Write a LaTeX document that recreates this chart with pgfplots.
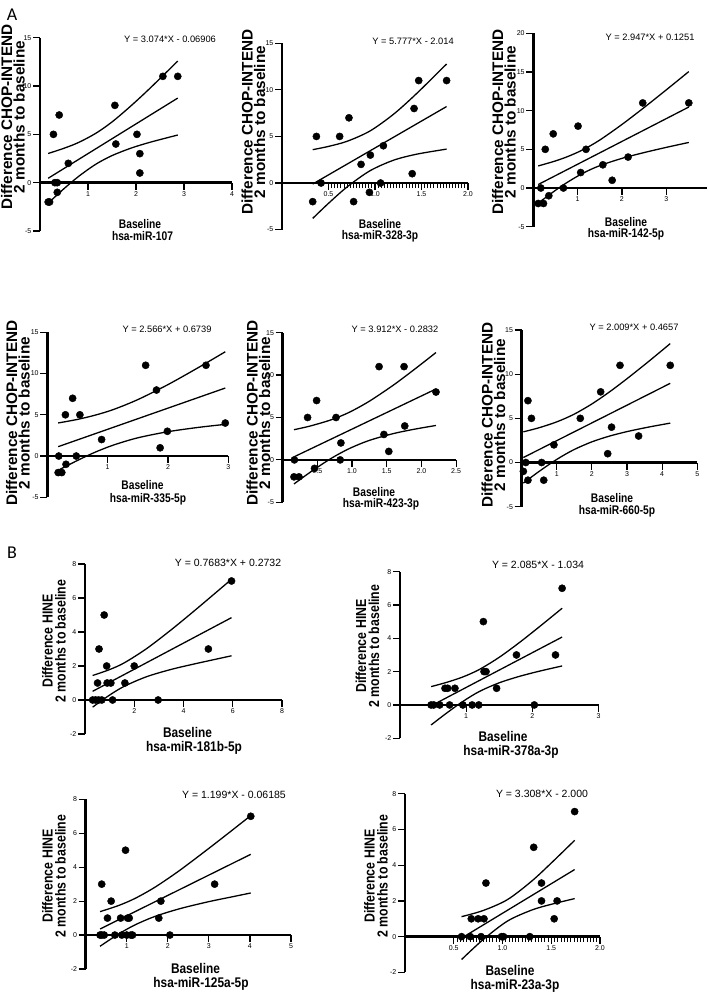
\documentclass[border=0pt]{standalone}
\usepackage{fontspec}
\setmainfont{Liberation Sans}
\newfontfamily\carlito{Carlito}
\usepackage{pgfplots}
\pgfplotsset{compat=1.18}
\newcommand\tk{\fontsize{7}{8}\selectfont}
\newcommand\eqA{\fontsize{9.3}{10}\selectfont}
\newcommand\eqB{\fontsize{10.5}{12}\selectfont}
\newcommand\xlA[1]{\bfseries\fontsize{12.5}{13}\selectfont\scalebox{0.82}[1]{#1}}
\newcommand\xlB[1]{\bfseries\fontsize{14}{15}\selectfont\scalebox{0.85}[1]{#1}}
\tikzset{
  ylA/.style={rotate=90, align=center, inner sep=0pt, font=\bfseries\fontsize{15.3}{12.5}\selectfont},
  ylB/.style={rotate=90, align=center, inner sep=0pt, font=\bfseries\fontsize{14.5}{13}\selectfont},
  xl/.style={anchor=base, inner sep=0pt},
}
\pgfplotsset{
  prism/.style={scale only axis, anchor=south west, axis lines=middle,
    axis line style={-, line width=2.6pt, black}, xmin=0,
    tick align=center, major tick length=7pt, minor tick length=5pt,
    every tick/.style={line width=1.2pt, black},
    minor tick style={line width=1pt, black},
    major x tick style={yshift=-3.5pt}, minor x tick style={yshift=-2.5pt},
    major y tick style={xshift=-3.5pt},
    ticklabel style={font=\tk, inner sep=1.5pt},
    xticklabel style={yshift=-3.5pt}, yticklabel style={xshift=-3.5pt},
    hide obscured x ticks=false, hide obscured y ticks=false,
    clip=false, enlargelimits=false},
  yA/.style={ymin=-5, ymax=15, ytick={-5,0,5,10,15}, yticklabels={-5,0,5,10,15}},
  yB/.style={ymin=-2, ymax=8, ytick={-2,0,2,4,6,8}, yticklabels={-2,0,2,4,6,8}},
  pts/.style={only marks, mark=*, mark size=3.6pt, black},
  fitl/.style={no markers, smooth, line width=1.3pt, black},
}
\begin{document}
\begin{tikzpicture}
\useasboundingbox (0pt,0pt) rectangle (709pt,996pt);
% ---------- A1 ----------
\begin{axis}[prism, yA, at={(40pt,765pt)}, width=192pt, height=193.3pt, xmax=4,
  xtick={1,2,3,4}, xticklabels={1,2,3,4}]
\addplot[pts] coordinates {(0.17,-2) (0.2,-2) (0.28,5) (0.40,7) (0.31,0) (0.36,0) (0.36,-1) (0.59,2) (1.56,8) (1.58,4) (2.02,5) (2.08,3) (2.08,1) (2.56,11) (2.87,11)};
\addplot[fitl] coordinates {(0.17,0.454) (2.87,8.753)};
\addplot[fitl] coordinates {(0.17,3.02) (0.5,3.56) (0.8,4.15) (1.16,5.10) (1.5,6.28) (1.9,7.97) (2.3,9.81) (2.87,12.58)};
\addplot[fitl] coordinates {(0.17,-2.12) (0.5,-0.62) (0.8,0.63) (1.16,1.90) (1.5,2.80) (1.9,3.58) (2.3,4.19) (2.87,4.93)};
\end{axis}
% ---------- A2 ----------
\begin{axis}[prism, yA, at={(282pt,766.4pt)}, width=186pt, height=186.3pt, xmax=2,
  xtick={0.5,1,1.5,2}, xticklabels={0.5,1.0,1.5,2.0}, minor x tick num=14]
\addplot[pts] coordinates {(0.33,-2) (0.37,5) (0.42,0) (0.62,5) (0.72,7) (0.77,-2) (0.85,2) (0.95,3) (0.94,-1) (1.06,0) (1.09,4) (1.40,1) (1.42,8) (1.47,11) (1.77,11)};
\addplot[fitl] coordinates {(0.33,-0.108) (1.77,8.211)};
\addplot[fitl] coordinates {(0.33,3.58) (0.5,3.93) (0.7,4.48) (0.945,5.58) (1.2,7.39) (1.45,9.63) (1.77,12.78)};
\addplot[fitl] coordinates {(0.33,-3.80) (0.5,-2.18) (0.7,-0.42) (0.945,1.31) (1.2,2.45) (1.45,3.10) (1.77,3.64)};
\end{axis}
% ---------- A3 ----------
\begin{axis}[prism, at={(533.3pt,769.3pt)}, width=174.1pt, height=193.4pt, xmax=3.93,
  ymin=-5, ymax=20, ytick={-5,0,5,10,15,20}, yticklabels={-5,0,5,10,15,20},
  xtick={1,2,3}, xticklabels={1,2,3}]
\addplot[pts] coordinates {(0.11,-2) (0.23,-2) (0.17,0) (0.27,5) (0.35,-1) (0.45,7) (0.68,0) (1.01,8) (1.07,2) (1.19,5) (1.57,3) (1.78,1) (2.14,4) (2.47,11) (3.51,11)};
\addplot[fitl] coordinates {(0.11,0.449) (3.51,10.469)};
\addplot[fitl] coordinates {(0.11,2.85) (0.5,3.50) (0.8,4.12) (1.133,4.98) (1.5,6.20) (2.0,8.21) (2.5,10.40) (3.0,12.68) (3.51,15.05)};
\addplot[fitl] coordinates {(0.11,-1.95) (0.5,-0.30) (0.8,0.85) (1.133,1.95) (1.5,2.89) (2.0,3.83) (2.5,4.58) (3.0,5.25) (3.51,5.89)};
\end{axis}
% ---------- A4 ----------
\begin{axis}[prism, yA, at={(47.3pt,498.7pt)}, width=181pt, height=165pt, xmax=3,
  xtick={1,2,3}, xticklabels={1,2,3}]
\addplot[pts] coordinates {(0.18,-2) (0.24,-2) (0.19,0) (0.30,5) (0.31,-1) (0.42,7) (0.48,0) (0.54,5) (0.90,2) (1.63,11) (1.81,8) (1.87,1) (1.99,3) (2.63,11) (2.95,4)};
\addplot[fitl] coordinates {(0.18,1.136) (2.95,8.244)};
\addplot[fitl] coordinates {(0.18,4.01) (0.5,4.44) (0.8,4.97) (1.1,5.65) (1.5,6.84) (2.0,8.66) (2.5,10.71) (2.95,12.64)};
\addplot[fitl] coordinates {(0.18,-1.73) (0.5,-0.53) (0.8,0.49) (1.1,1.34) (1.5,2.21) (2.0,2.95) (2.5,3.47) (2.95,3.84)};
\end{axis}
% ---------- A5 ----------
\begin{axis}[prism, yA, at={(282.6pt,493.7pt)}, width=173.5pt, height=169.6pt, xmax=2.5,
  xtick={0.5,1,1.5,2,2.5}, xticklabels={0.5,1.0,1.5,2.0,2.5}]
\addplot[pts] coordinates {(0.164,-2) (0.236,-2) (0.17,0) (0.36,5) (0.46,-1) (0.49,7) (0.77,5) (0.84,2) (0.83,0) (1.39,11) (1.46,3) (1.53,1) (1.75,11) (1.76,4) (2.21,8)};
\addplot[fitl] coordinates {(0.164,0.358) (2.21,8.362)};
\addplot[fitl] coordinates {(0.164,3.56) (0.4,4.00) (0.7,4.73) (0.96,5.61) (1.25,6.92) (1.6,8.84) (1.9,10.68) (2.21,12.66)};
\addplot[fitl] coordinates {(0.164,-2.84) (0.4,-1.44) (0.7,0.18) (0.96,1.33) (1.25,2.30) (1.6,3.11) (1.9,3.62) (2.21,4.06)};
\end{axis}
% ---------- A6 ----------
\begin{axis}[prism, yA, at={(521.6pt,489.3pt)}, width=175.7pt, height=176.7pt, xmax=5,
  xtick={1,2,3,4,5}, xticklabels={1,2,3,4,5}]
\addplot[pts] coordinates {(0.05,-1) (0.12,0) (0.18,7) (0.18,-2) (0.28,5) (0.57,0) (0.63,-2) (0.92,2) (1.67,5) (2.25,8) (2.56,4) (2.45,1) (2.80,11) (3.33,3) (4.23,11)};
\addplot[fitl] coordinates {(0.05,0.566) (4.23,8.964)};
\addplot[fitl] coordinates {(0.05,3.47) (0.5,3.94) (1.0,4.60) (1.48,5.44) (2.0,6.63) (2.5,7.99) (3.0,9.49) (3.6,11.39) (4.23,13.46)};
\addplot[fitl] coordinates {(0.05,-2.33) (0.5,-1.00) (1.0,0.35) (1.48,1.44) (2.0,2.34) (2.5,2.99) (3.0,3.50) (3.6,4.00) (4.23,4.46)};
\end{axis}
% ---------- B1 ----------
\begin{axis}[prism, yB, at={(85pt,262pt)}, width=197pt, height=170pt, xmax=8,
  xtick={2,4,6,8}, xticklabels={2,4,6,8}]
\addplot[pts] coordinates {(0.31,0) (0.43,0) (0.55,0) (0.68,0) (0.51,1) (0.57,3) (0.78,5) (0.88,2) (0.90,1) (1.05,1) (1.12,0) (1.62,1) (2.0,2) (2.97,0) (5.01,3) (5.95,7)};
\addplot[fitl] coordinates {(0.31,0.511) (5.95,4.845)};
\addplot[fitl] coordinates {(0.31,1.44) (1.0,1.79) (1.6,2.19) (2.5,3.02) (3.5,4.13) (4.5,5.32) (5.95,7.10)};
\addplot[fitl] coordinates {(0.31,-0.42) (1.0,0.29) (1.6,0.81) (2.5,1.37) (3.5,1.80) (4.5,2.14) (5.95,2.60)};
\end{axis}
% ---------- B2 ----------
\begin{axis}[prism, yB, at={(400pt,257.7pt)}, width=198.5pt, height=166.7pt, xmax=3,
  xtick={1,2,3}, xticklabels={1,2,3}]
\addplot[pts] coordinates {(0.47,0) (0.51,0) (0.60,0) (0.75,0) (0.95,0) (1.09,0) (1.19,0) (2.03,0) (0.68,1) (0.72,1) (0.83,1) (1.46,1) (1.26,5) (1.27,2) (1.30,2) (1.76,3) (2.35,3) (2.45,7)};
\addplot[fitl] coordinates {(0.47,-0.054) (2.45,4.074)};
\addplot[fitl] coordinates {(0.47,1.10) (0.7,1.35) (0.95,1.68) (1.2,2.13) (1.5,2.86) (1.8,3.73) (2.1,4.67) (2.45,5.80)};
\addplot[fitl] coordinates {(0.47,-1.20) (0.7,-0.50) (0.95,0.21) (1.2,0.81) (1.5,1.33) (1.8,1.71) (2.1,2.02) (2.45,2.34)};
\end{axis}
% ---------- B3 ----------
\begin{axis}[prism, yB, at={(85.7pt,27pt)}, width=205.3pt, height=169.7pt, xmax=5,
  xtick={1,2,3,4,5}, xticklabels={1,2,3,4,5}]
\addplot[pts] coordinates {(0.35,0) (0.39,0) (0.45,0) (0.71,0) (0.88,0) (1.0,0) (1.10,0) (1.14,0) (2.05,0) (0.39,3) (0.53,1) (0.62,2) (0.85,1) (0.97,5) (1.02,1) (1.06,1) (1.78,1) (1.83,2) (3.14,3) (4.02,7)};
\addplot[fitl] coordinates {(0.35,0.358) (4.02,4.758)};
\addplot[fitl] coordinates {(0.35,1.38) (0.8,1.74) (1.21,2.17) (1.7,2.84) (2.3,3.83) (3.0,5.11) (3.5,6.05) (4.02,7.04)};
\addplot[fitl] coordinates {(0.35,-0.66) (0.8,0.06) (1.21,0.61) (1.7,1.11) (2.3,1.56) (3.0,1.97) (3.5,2.22) (4.02,2.48)};
\end{axis}
% ---------- B4 ----------
\begin{axis}[prism, yB, at={(405pt,23.6pt)}, width=195pt, height=178.7pt, xmax=2,
  xtick={0.5,1,1.5,2}, xticklabels={0.5,1.0,1.5,2.0}, minor x tick num=14]
\addplot[pts] coordinates {(0.58,0) (0.67,0) (0.78,0) (0.99,0) (1.01,0) (1.28,0) (0.68,1) (0.75,1) (0.81,1) (1.53,1) (0.83,3) (1.32,5) (1.40,3) (1.40,2) (1.56,2) (1.74,7)};
\addplot[fitl] coordinates {(0.58,-0.081) (1.74,3.756)};
\addplot[fitl] coordinates {(0.58,1.12) (0.8,1.46) (1.05,2.07) (1.3,3.11) (1.5,4.12) (1.74,5.39)};
\addplot[fitl] coordinates {(0.58,-1.28) (0.8,-0.17) (1.05,0.87) (1.3,1.49) (1.5,1.81) (1.74,2.13)};
\end{axis}
% ---------- texts ----------
\node[font=\carlito\fontsize{18}{18}\selectfont] at (12pt,981pt) {A};
\node[font=\carlito\fontsize{18}{18}\selectfont] at (12pt,443pt) {B};
\node[font=\eqA] at (170pt,957pt) {Y = 3.074*X - 0.06906};
\node[font=\eqA] at (413pt,955pt) {Y = 5.777*X - 2.014};
\node[font=\eqA] at (650pt,959pt) {Y = 2.947*X + 0.1251};
\node[font=\eqA] at (167pt,667pt) {Y = 2.566*X + 0.6739};
\node[font=\eqA] at (395pt,667pt) {Y = 3.912*X - 0.2832};
\node[font=\eqA] at (634pt,669pt) {Y = 2.009*X + 0.4657};
\node[font=\eqB] at (228pt,433pt) {Y = 0.7683*X + 0.2732};
\node[font=\eqB] at (538pt,431pt) {Y = 2.085*X - 1.034};
\node[font=\eqB] at (234pt,201pt) {Y = 1.199*X - 0.06185};
\node[font=\eqB] at (542pt,202pt) {Y = 3.308*X - 2.000};
% y labels
\node[ylA] at (13pt,879pt) {Difference CHOP-INTEND\\2 months to baseline};
\node[ylA] at (253.5pt,874pt) {Difference CHOP-INTEND\\2 months to baseline};
\node[ylA] at (504pt,874pt) {Difference CHOP-INTEND\\2 months to baseline};
\node[ylA] at (18pt,583pt) {Difference CHOP-INTEND\\2 months to baseline};
\node[ylA] at (258.5pt,583pt) {Difference CHOP-INTEND\\2 months to baseline};
\node[ylA] at (493.5pt,581pt) {Difference CHOP-INTEND\\2 months to baseline};
\node[ylB] at (54pt,355pt) {\scalebox{0.85}[1]{Difference HINE}\\\scalebox{0.85}[1]{2 months to baseline}};
\node[ylB] at (367.5pt,350pt) {\scalebox{0.85}[1]{Difference HINE}\\\scalebox{0.85}[1]{2 months to baseline}};
\node[ylB] at (54pt,120pt) {\scalebox{0.85}[1]{Difference HINE}\\\scalebox{0.85}[1]{2 months to baseline}};
\node[ylB] at (376pt,120pt) {\scalebox{0.85}[1]{Difference HINE}\\\scalebox{0.85}[1]{2 months to baseline}};
% x labels
\node[xl] at (140pt,767.5pt) {\xlA{Baseline}};
\node[xl] at (142.5pt,755pt) {\xlA{hsa-miR-107}};
\node[xl] at (380pt,767.7pt) {\xlA{Baseline}};
\node[xl] at (380pt,756pt) {\xlA{hsa-miR-328-3p}};
\node[xl] at (626pt,769.3pt) {\xlA{Baseline}};
\node[xl] at (626pt,758.3pt) {\xlA{hsa-miR-142-5p}};
\node[xl] at (142.5pt,506.7pt) {\xlA{Baseline}};
\node[xl] at (148pt,493.3pt) {\xlA{hsa-miR-335-5p}};
\node[xl] at (374pt,499pt) {\xlA{Baseline}};
\node[xl] at (381pt,488pt) {\xlA{hsa-miR-423-3p}};
\node[xl] at (612pt,493pt) {\xlA{Baseline}};
\node[xl] at (617pt,481pt) {\xlA{hsa-miR-660-5p}};
\node[xl] at (187.5pt,258.5pt) {\xlB{Baseline}};
\node[xl] at (194pt,244.8pt) {\xlB{hsa-miR-181b-5p}};
\node[xl] at (503pt,254pt) {\xlB{Baseline}};
\node[xl] at (511pt,240.5pt) {\xlB{hsa-miR-378a-3p}};
\node[xl] at (195.5pt,22.5pt) {\xlB{Baseline}};
\node[xl] at (201pt,9pt) {\xlB{hsa-miR-125a-5p}};
\node[xl] at (510pt,20pt) {\xlB{Baseline}};
\node[xl] at (515pt,6.7pt) {\xlB{hsa-miR-23a-3p}};
\end{tikzpicture}
\end{document}
